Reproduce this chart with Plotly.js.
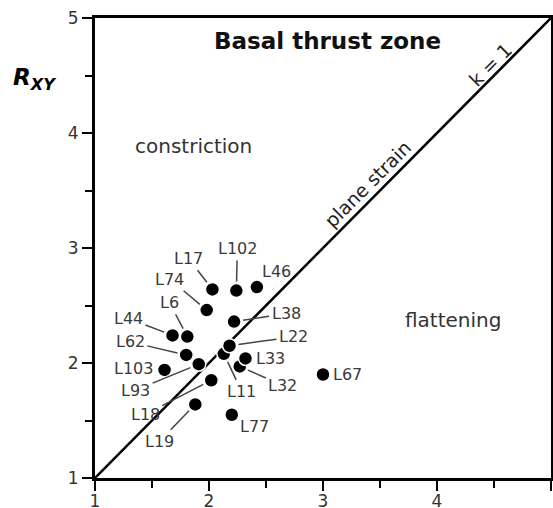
<!DOCTYPE html>
<html><head><meta charset="utf-8">
<script src="https://cdn.plot.ly/plotly-3.0.1.min.js"></script>
<style>html,body{margin:0;padding:0;background:#fff}</style>
</head><body><div id="chart" style="width:553px;height:508px"></div>
<script>
// ---- data ----
const sampleNames = ['L17','L102','L46','L74','L38','L6','L44','L11','L22','L62','L32','L33','L103','L93','L18','L19','L77','L67'];
const rYZ = [2.03, 2.24, 2.42, 1.98, 2.22, 1.81, 1.68, 2.13, 2.18, 1.80, 2.27, 2.32, 1.61, 1.91, 2.02, 1.88, 2.20, 3.00];
const rXY = [2.64, 2.63, 2.66, 2.46, 2.36, 2.23, 2.24, 2.08, 2.15, 2.07, 1.97, 2.04, 1.94, 1.99, 1.85, 1.64, 1.55, 1.90];
const planeStrainX = [1, 5];
const planeStrainY = [1, 5];
const tickVals = [1, 2, 3, 4, 5];
const tickText = ['1', '2', '3', '4', '5'];

// ---- label placement (pixel offsets from point, leader line flag) ----
const labelPlacement = {
  L17:[-24,-31,true], L102:[1,-42,true], L46:[20,-16,false], L74:[-37,-31,true],
  L38:[52,-8,true], L6:[-18,-34,true], L44:[-44,-17,true], L11:[18,38,true],
  L22:[64,-9,true], L62:[-56,-13,true], L32:[43,19,true], L33:[25,0,false],
  L103:[-31,-1,false], L93:[-63,26,true], L18:[-66,34,true], L19:[-36,37,true],
  L77:[23,12,false], L67:[24,0,false]
};

const FONT = 'DejaVu Sans, Verdana, sans-serif';
const labelColor = '#3a3a3a';

const traces = [
  {x: planeStrainX, y: planeStrainY, mode: 'lines', line: {color: '#000', width: 2.5},
   hoverinfo: 'skip', showlegend: false, cliponaxis: false},
  {x: rYZ, y: rXY, text: sampleNames, mode: 'markers', showlegend: false,
   marker: {color: '#000', size: 14, line: {color: '#fff', width: 1.5}}}
];

const annotations = [];
sampleNames.forEach((n, i) => {
  const p = labelPlacement[n];
  if (p[2]) {
    annotations.push({x: rYZ[i], y: rXY[i], xref: 'x', yref: 'y', text: n,
      showarrow: true, arrowhead: 0, arrowwidth: 1.5, arrowcolor: '#444',
      ax: p[0], ay: p[1], standoff: 9, startstandoff: 1,
      font: {family: FONT, size: 16, color: labelColor}});
  } else {
    annotations.push({x: rYZ[i], y: rXY[i], xref: 'x', yref: 'y', text: n,
      showarrow: false, xshift: p[0], yshift: -p[1],
      font: {family: FONT, size: 16, color: labelColor}});
  }
});

annotations.push(
  {x: 3.04, y: 4.80, xref: 'x', yref: 'y', text: '<b>Basal thrust zone</b>', showarrow: false,
   font: {family: FONT, size: 23, color: '#111'}},
  {x: 1.86, y: 3.887, xref: 'x', yref: 'y', text: 'constriction', showarrow: false,
   font: {family: FONT, size: 20, color: '#333'}},
  {x: 4.14, y: 2.374, xref: 'x', yref: 'y', text: 'flattening', showarrow: false,
   font: {family: FONT, size: 20, color: '#333'}},
  {x: 3.39, y: 3.56, xref: 'x', yref: 'y', text: 'plane strain', showarrow: false, textangle: -45,
   font: {family: FONT, size: 19, color: '#222'}},
  {x: 4.465, y: 4.59, xref: 'x', yref: 'y', text: 'k = 1', showarrow: false, textangle: -45,
   font: {family: FONT, size: 19, color: '#222'}},
  {x: -0.1316, y: 0.868, xref: 'paper', yref: 'paper', xanchor: 'center', yanchor: 'middle',
   text: '<b><i>R<sub>XY</sub></i></b>', showarrow: false,
   font: {family: FONT, size: 23, color: '#000'}}
);

const axisCommon = {
  range: [1, 5], tickmode: 'array', tickvals: tickVals, ticktext: tickText,
  ticks: 'outside', ticklen: 10, tickwidth: 2, tickcolor: '#000',
  showline: true, linewidth: 3, linecolor: '#000', mirror: true,
  showgrid: false, zeroline: false, fixedrange: true,
  tickfont: {family: FONT, size: 17, color: '#333'},
  minor: {dtick: 0.5, tick0: 1, ticks: 'outside', ticklen: 7, tickwidth: 2, tickcolor: '#000', showgrid: false}
};

const layout = {
  width: 553, height: 508,
  margin: {l: 95, r: 2, t: 18, b: 30},
  paper_bgcolor: '#fff', plot_bgcolor: '#fff',
  xaxis: Object.assign({}, axisCommon, {ticklabelstandoff: -4}),
  yaxis: Object.assign({}, axisCommon),
  annotations: annotations,
  showlegend: false
};

Plotly.newPlot('chart', traces, layout, {displayModeBar: false, staticPlot: true});
</script>
</body></html>
